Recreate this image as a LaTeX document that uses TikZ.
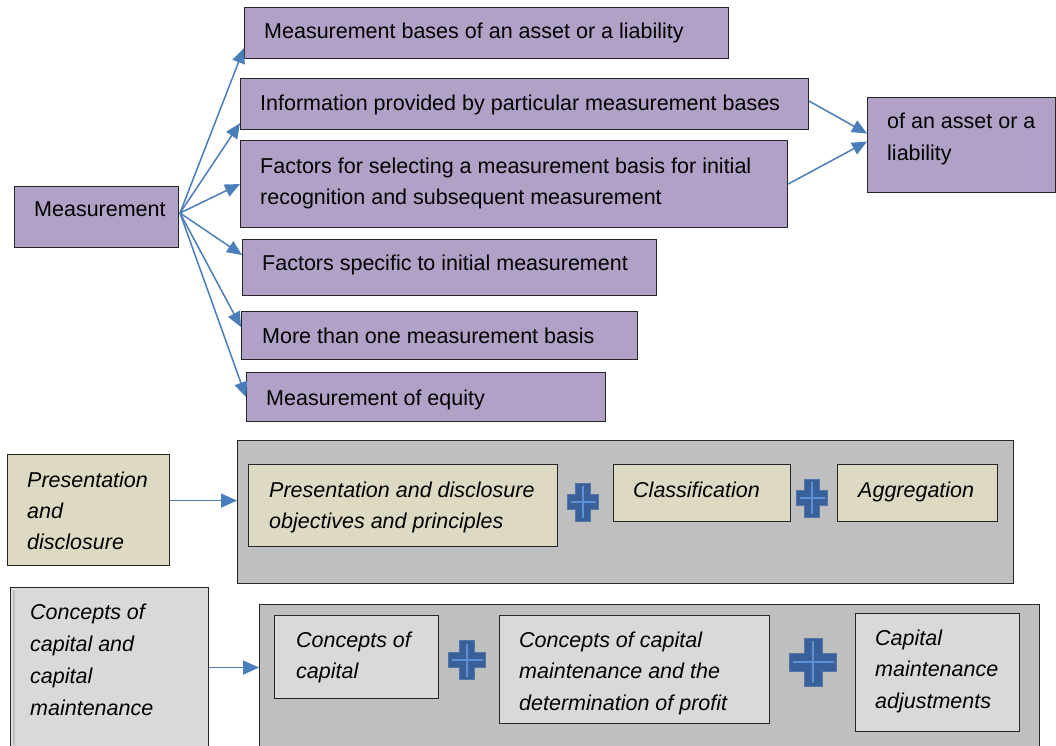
\documentclass[tikz,border=0pt]{standalone}
\usepackage{fontspec}
\setmainfont{Liberation Sans}
\usetikzlibrary{arrows.meta,calc}

\definecolor{lilac}{HTML}{B2A1C7}
\definecolor{sand}{HTML}{DDD9C3}
\definecolor{pale}{HTML}{D9D9D9}
\definecolor{panel}{HTML}{BFBFBF}
\definecolor{link}{HTML}{4A7EBB}
\definecolor{plusfill}{HTML}{3A6099}
\definecolor{plusedge}{HTML}{5275A8}
\definecolor{plusline}{HTML}{5C90D2}

% several lines of text whose first baseline is the node baseline
\newcommand\textlines[1]{\begin{tabular}[t]{@{}l@{}}#1\end{tabular}}

\tikzset{
  pics/crossmark/.style n args={3}{code={
    % #1 = width, #2 = height, #3 = arm thickness
    \fill[plusfill, draw=plusedge, line width=0.8pt]
      ({-#3/2},{-#2/2}) -- ({#3/2},{-#2/2}) -- ({#3/2},{-#3/2}) -- ({#1/2},{-#3/2})
      -- ({#1/2},{#3/2}) -- ({#3/2},{#3/2}) -- ({#3/2},{#2/2}) -- ({-#3/2},{#2/2})
      -- ({-#3/2},{#3/2}) -- ({-#1/2},{#3/2}) -- ({-#1/2},{-#3/2}) -- ({-#3/2},{-#3/2}) -- cycle;
    \draw[plusline, line width=1.6pt] (0,{-#2/2+3}) -- (0,{#2/2-3});
    \draw[plusline, line width=1.6pt] ({-#1/2+3},0) -- ({#1/2-3},0);
  }}
}

\begin{document}
\begin{tikzpicture}[x=1pt,y=-1pt,
  box/.style={draw=black!85, line width=1.1pt, inner sep=0pt, anchor=north west},
  lbl/.style={inner sep=0pt, anchor=base west, text=black, font=\fontsize{21.5}{31}\selectfont},
  ilbl/.style={lbl, font=\fontsize{21.5}{31}\selectfont\itshape},
  arr/.style={draw=link, line width=1.5pt, -{Triangle[length=15pt,width=13pt]}},
  harr/.style={draw=link, line width=1.5pt, -{Triangle[length=16pt,width=14pt]}},
]
\useasboundingbox (0,0) rectangle (1056,745);

% ---------- Measurement ----------
\node[box, fill=lilac, minimum width=164pt, minimum height=61pt] (meas) at (14,186) {};
\node[lbl] (tmeas) at (34,216) {Measurement};

\node[box, fill=lilac, minimum width=484pt, minimum height=51pt] (b1) at (244,7) {};
\node[lbl] (tb1) at (264,38) {Measurement bases of an asset or a liability};

\node[box, fill=lilac, minimum width=568pt, minimum height=51pt] (b2) at (240,78) {};
\node[lbl] (tb2) at (260,110) {Information provided by particular measurement bases};

\node[box, fill=lilac, minimum width=547pt, minimum height=87pt] (b3) at (240,140) {};
\node[lbl] (tb3) at (260,173) {\textlines{Factors for selecting a measurement basis for initial\\recognition and subsequent measurement}};

\node[box, fill=lilac, minimum width=414pt, minimum height=56pt] (b4) at (242,239) {};
\node[lbl] (tb4) at (262,270) {Factors specific to initial measurement};

\node[box, fill=lilac, minimum width=396pt, minimum height=48pt] (b5) at (241,311) {};
\node[lbl] (tb5) at (262,343) {More than one measurement basis};

\node[box, fill=lilac, minimum width=359pt, minimum height=49pt] (b6) at (246,372) {};
\node[lbl] (tb6) at (266,405) {Measurement of equity};

\node[box, fill=lilac, minimum width=188pt, minimum height=95pt] (r) at (867,97) {};
\node[lbl, font=\fontsize{21.5}{32}\selectfont] (tr) at (887,128) {\textlines{of an asset or a\\liability}};

\coordinate (hub) at (180,213);
\draw[arr] (hub) -- ([yshift=11pt]b1.south west);
\draw[arr] (hub) -- ([yshift=7pt]b2.south west);
\draw[arr] (hub) -- (b3.west);
\draw[arr] (hub) -- ([yshift=-16pt]b4.north west);
\draw[arr] (hub) -- ([yshift=-16pt]b5.north west);
\draw[arr] (hub) -- (b6.west);

\draw[arr] ([yshift=3pt]b2.east) -- ([yshift=11.5pt]r.west);
\draw[arr] (b3.east) -- ([yshift=3.5pt]r.west);

% ---------- Presentation and disclosure ----------
\node[box, fill=sand, minimum width=162pt, minimum height=111pt] (pd) at (7,454) {};
\node[ilbl] (tpd) at (27,487) {\textlines{Presentation\\and\\disclosure}};

\node[box, fill=panel, minimum width=776pt, minimum height=143pt] (pan1) at (237,440) {};

\node[box, fill=sand, minimum width=309pt, minimum height=82pt] (p1) at (248,464) {};
\node[ilbl] (tp1) at (269,497) {\textlines{Presentation and disclosure\\objectives and principles}};

\node[box, fill=sand, minimum width=177pt, minimum height=57pt] (p2) at (613,464) {};
\node[ilbl] (tp2) at (633,497) {Classification};

\node[box, fill=sand, minimum width=160pt, minimum height=57pt] (p3) at (837,464) {};
\node[ilbl] (tp3) at (858,497) {Aggregation};

\pic at (583,502) {crossmark={31}{38}{15}};
\pic at (812,498) {crossmark={31}{38}{15}};

\coordinate (pdout) at ([yshift=9.5pt]pd.east);
\draw[harr] (pdout) -- (pdout -| pan1.west);

% ---------- Concepts of capital and capital maintenance ----------
\node[box, fill=pale, minimum width=198pt, minimum height=160pt] (cc) at (10,587) {};
\draw[black!25, line width=1.2pt] ([xshift=4pt,yshift=-3pt]cc.north west) -- ([xshift=4pt,yshift=3pt]cc.south west);
\node[ilbl, font=\fontsize{21.5}{32}\selectfont\itshape] (tcc) at (30,619) {\textlines{Concepts of\\capital and\\capital\\maintenance}};

\node[box, fill=panel, minimum width=780pt, minimum height=150pt] (pan2) at (259,604) {};

\node[box, fill=pale, minimum width=164pt, minimum height=83pt] (c1) at (274,615) {};
\node[ilbl] (tc1) at (296,647) {\textlines{Concepts of\\capital}};

\node[box, fill=pale, minimum width=270pt, minimum height=108pt] (c2) at (499,615) {};
\node[ilbl, font=\fontsize{21.5}{31.5}\selectfont\itshape] (tc2) at (519,647) {\textlines{Concepts of capital\\maintenance and the\\determination of profit}};

\node[box, fill=pale, minimum width=164pt, minimum height=118pt] (c3) at (855,613) {};
\node[ilbl, font=\fontsize{21.5}{31.5}\selectfont\itshape] (tc3) at (875,645) {\textlines{Capital\\maintenance\\adjustments}};

\pic at (467,660) {crossmark={37}{39}{15}};
\pic at (813,662) {crossmark={47}{48}{18}};

\coordinate (ccout) at (cc.east);
\draw[harr] (ccout) -- (ccout -| pan2.west);

\end{tikzpicture}
\end{document}
